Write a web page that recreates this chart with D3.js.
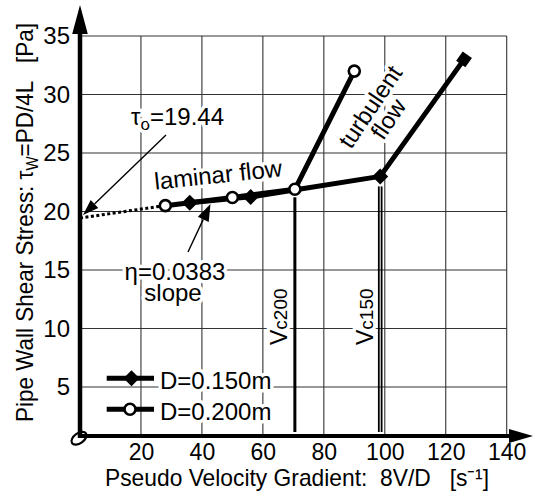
<!DOCTYPE html>
<html>
<head>
<meta charset="utf-8">
<script src="https://cdn.jsdelivr.net/npm/d3@7"></script>
<style>
  html, body { margin: 0; padding: 0; background: #fff; }
  svg { display: block; }
  text { font-family: "Liberation Sans", Arial, Helvetica, sans-serif; fill: #000; white-space: pre; }
</style>
</head>
<body>
<svg id="chart" width="533" height="495"></svg>
<script>
// ---- data ----
const xTicks = [20, 40, 60, 80, 100, 120, 140];
const yTicks = [5, 10, 15, 20, 25, 30, 35];

// D = 0.150 m pipe
const d150X = [36, 56, 98.5, 126];
const d150Y = [20.75, 21.25, 23, 33];
// D = 0.200 m pipe
const d200X = [28, 50, 70.5, 90];
const d200Y = [20.5, 21.2, 21.9, 32];

// Bingham fit of the laminar branch
const tau0 = 19.44;
const eta = 0.0383;

// transition gradients
const vc200 = 70.5, vc200Tau = 21.9;
const vc150 = 98.5, vc150Tau = 23;

const legendLabels = ["D=0.150m", "D=0.200m"];

// ---- layout ----
const svg = d3.select("#chart");
const x = d3.scaleLinear().domain([0, 140]).range([80, 506.7]);
const y = d3.scaleLinear().domain([0, 35]).range([445.5, 36]);
const axisY = 436;          // pixel row of the horizontal axis
const axisX = x(0);

const halo = sel => sel.attr("stroke", "#fff").attr("stroke-width", 7)
  .attr("stroke-linejoin", "round").attr("paint-order", "stroke");

// grid
const grid = svg.append("g").attr("stroke", "#333").attr("stroke-width", 1.1);
grid.selectAll("line.v").data(xTicks).join("line")
  .attr("x1", d => x(d)).attr("x2", d => x(d))
  .attr("y1", y(35)).attr("y2", axisY);
grid.selectAll("line.h").data(yTicks).join("line")
  .attr("x1", axisX).attr("x2", x(140))
  .attr("y1", d => y(d)).attr("y2", d => y(d));

// annotation texts (with white halo cutting the grid)
const ann = svg.append("g").style("font-size", "24px");
const tauText = ann.append("text").attr("x", 131).attr("y", 125).call(halo);
tauText.append("tspan").text("τ");
tauText.append("tspan").style("font-size", "17px").attr("dy", 5).text("o");
tauText.append("tspan").attr("dy", -5).text("=19.44");

ann.append("text").attr("transform", "translate(219,183) rotate(-6)")
  .attr("text-anchor", "middle").text("laminar flow").call(halo);

const etaText = ann.append("text").attr("text-anchor", "middle").call(halo);
etaText.append("tspan").attr("x", 175).attr("y", 280).text("η=0.0383");
etaText.append("tspan").attr("x", 173).attr("y", 301).text("slope");

const turb = ann.append("text").attr("transform", "translate(379.5,113) rotate(-56)")
  .attr("text-anchor", "middle").call(halo);
turb.append("tspan").attr("x", 0).attr("y", -3).text("turbulent");
turb.append("tspan").attr("x", 0).attr("y", 19).text("flow");

// Vc labels
function vcLabel(xv, digits) {
  const t = svg.append("text")
    .attr("transform", `translate(${x(xv) - 7.5},345) rotate(-90)`)
    .call(halo);
  t.append("tspan").style("font-size", "23px").text("V");
  t.append("tspan").style("font-size", "19px").text("c" + digits);
}
vcLabel(vc200, "200");
vcLabel(vc150, "150");

// Vc vertical lines
svg.append("line").attr("x1", x(vc200)).attr("x2", x(vc200))
  .attr("y1", y(vc200Tau) + 8).attr("y2", 432)
  .attr("stroke", "#000").attr("stroke-width", 3);
[-1.4, 1.4].forEach(o => svg.append("line")
  .attr("x1", x(vc150) + o).attr("x2", x(vc150) + o)
  .attr("y1", y(vc150Tau) + 10).attr("y2", 432)
  .attr("stroke", "#000").attr("stroke-width", 1.8));

// dotted extrapolation to the yield stress
svg.append("line")
  .attr("x1", x(0)).attr("y1", y(tau0))
  .attr("x2", x(d200X[0])).attr("y2", y(tau0 + eta * d200X[0]))
  .attr("stroke", "#000").attr("stroke-width", 3).attr("stroke-dasharray", "3,2.5");

// series lines
const line = d3.line().x(d => x(d[0])).y(d => y(d[1]));
const s150 = d150X.map((v, i) => [v, d150Y[i]]);
const s200 = d200X.map((v, i) => [v, d200Y[i]]);
[s200, s150].forEach(s => svg.append("path").attr("d", line(s))
  .attr("fill", "none").attr("stroke", "#000").attr("stroke-width", 5)
  .attr("stroke-linejoin", "round"));

// markers
const diamond = "M0,-8L8,0L0,8L-8,0Z";
svg.selectAll("path.dm").data(s150).join("path")
  .attr("d", diamond)
  .attr("transform", (d, i) => {
    let a = 0;
    if (i === s150.length - 1) {
      const p = s150[i - 1];
      a = Math.atan2(y(d[1]) - y(p[1]), x(d[0]) - x(p[0])) * 180 / Math.PI + 45;
    }
    return `translate(${x(d[0])},${y(d[1])}) rotate(${a})`;
  })
  .attr("fill", "#000");
svg.selectAll("circle.ci").data(s200).join("circle")
  .attr("cx", d => x(d[0])).attr("cy", d => y(d[1])).attr("r", 5.5)
  .attr("fill", "#fff").attr("stroke", "#000").attr("stroke-width", 2.6);

// origin marker
svg.append("ellipse").attr("cx", 79).attr("cy", 438.3).attr("rx", 8.5).attr("ry", 5)
  .attr("transform", "rotate(-35,79,438.3)")
  .attr("fill", "#fff").attr("stroke", "#000").attr("stroke-width", 2.2);

// axes with arrow heads
svg.append("line").attr("x1", axisX).attr("x2", axisX).attr("y1", axisY + 2).attr("y2", 30)
  .attr("stroke", "#000").attr("stroke-width", 4.5);
svg.append("path").attr("d", `M${axisX},5L${axisX - 7.8},34L${axisX + 7.8},34Z`).attr("fill", "#000");
svg.append("line").attr("x1", axisX - 2).attr("x2", 512).attr("y1", axisY).attr("y2", axisY)
  .attr("stroke", "#000").attr("stroke-width", 4);
svg.append("path").attr("d", `M533,${axisY}L509,${axisY - 7}L509,${axisY + 7}Z`).attr("fill", "#000");

// tick labels
const gx = svg.append("g").attr("transform", `translate(0,${axisY})`)
  .call(d3.axisBottom(x).tickValues(xTicks).tickSize(0).tickPadding(7.5));
gx.select(".domain").remove();
gx.selectAll("text").style("font-size", "23px").attr("font-family", null);
const gy = svg.append("g").attr("transform", `translate(${axisX},0)`)
  .call(d3.axisLeft(y).tickValues(yTicks).tickSize(0).tickPadding(10));
gy.select(".domain").remove();
gy.selectAll("text").style("font-size", "24px").attr("font-family", null);

// annotation arrows
function arrow(x1, y1, x2, y2, len, half) {
  const a = Math.atan2(y2 - y1, x2 - x1);
  const bx = x2 - len * Math.cos(a), by = y2 - len * Math.sin(a);
  svg.append("line").attr("x1", x1).attr("y1", y1).attr("x2", bx).attr("y2", by)
    .attr("stroke", "#000").attr("stroke-width", 1.4);
  const px = -Math.sin(a) * half, py = Math.cos(a) * half;
  svg.append("path")
    .attr("d", `M${x2},${y2}L${bx + px},${by + py}L${bx - px},${by - py}Z`)
    .attr("fill", "#000");
}
arrow(166, 135, x(0) + 3, y(tau0) - 3, 16, 5.5);
arrow(188, 252, 210.5, 204, 17, 6);

// legend
const lg = svg.append("g");
[378.3, 409.3].forEach((ly, i) => {
  lg.append("line").attr("x1", 106.7).attr("x2", 154).attr("y1", ly).attr("y2", ly)
    .attr("stroke", "#000").attr("stroke-width", 5);
  if (i === 0) lg.append("path").attr("d", diamond).attr("transform", `translate(131.5,${ly})`);
  else lg.append("circle").attr("cx", 130).attr("cy", ly).attr("r", 5.5)
    .attr("fill", "#fff").attr("stroke", "#000").attr("stroke-width", 2.6);
  lg.append("text").attr("x", 160).attr("y", ly + 11).style("font-size", "24px")
    .text(legendLabels[i]).call(halo);
});

// axis titles
svg.append("text").attr("x", 105).attr("y", 486).style("font-size", "24px")
  .attr("textLength", 384).attr("lengthAdjust", "spacingAndGlyphs")
  .text("Pseudo Velocity Gradient:  8V/D   [s⁻¹]");

const yt = svg.append("text").attr("transform", "translate(33,222.5) rotate(-90)")
  .attr("text-anchor", "middle").style("font-size", "24px")
  .attr("textLength", 399).attr("lengthAdjust", "spacingAndGlyphs");
yt.append("tspan").text("Pipe Wall Shear Stress: τ");
yt.append("tspan").style("font-size", "16px").attr("dy", 5).text("W");
yt.append("tspan").attr("dy", -5).text("=PD/4L   [Pa]");
</script>
</body>
</html>
